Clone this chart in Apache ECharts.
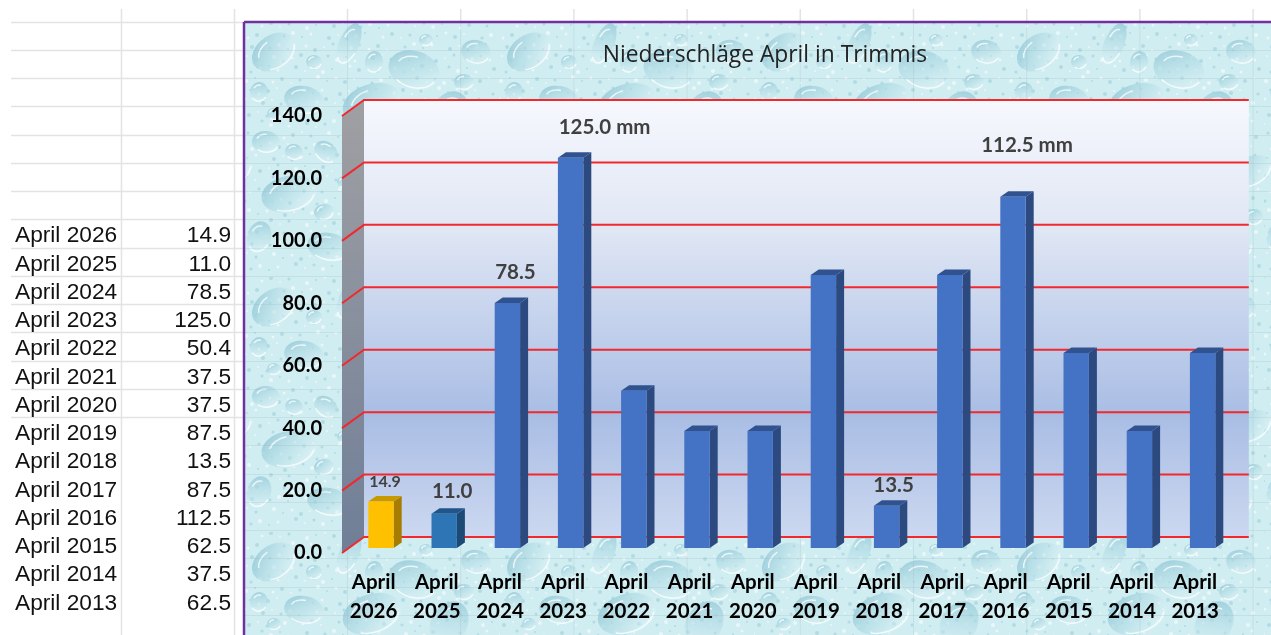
<!DOCTYPE html>
<html>
<head>
<meta charset="utf-8">
<title>Niederschläge April in Trimmis</title>
<style>
  html, body { margin: 0; padding: 0; background: #fff; }
  #chart { width: 1271px; height: 635px; }
</style>
<script src="https://cdn.jsdelivr.net/npm/echarts@6/dist/echarts.min.js"></script>
</head>
<body>
<div id="chart"></div>
<script>
// data
const categories = ['April 2026', 'April 2025', 'April 2024', 'April 2023', 'April 2022', 'April 2021', 'April 2020',
    'April 2019', 'April 2018', 'April 2017', 'April 2016', 'April 2015', 'April 2014', 'April 2013'];
const rainfall = [14.9, 11.0, 78.5, 125.0, 50.4, 37.5, 37.5, 87.5, 13.5, 87.5, 112.5, 62.5, 37.5, 62.5];
const yTicks = [0, 20, 40, 60, 80, 100, 120, 140];
const labelled = [
    { index: 0, text: '14.9' },
    { index: 1, text: '11.0' },
    { index: 2, text: '78.5' },
    { index: 3, text: '125.0 mm' },
    { index: 8, text: '13.5' },
    { index: 10, text: '112.5 mm' },
];

// label placement, relative to the bar top
const labelStyle = {
    0: { dx: 4, dy: -20, size: 16 },
    1: { dx: 8, dy: -22, size: 20.5 },
    2: { dx: 8, dy: -31, size: 20.5 },
    3: { dx: 34, dy: -30, size: 20.5 },
    8: { dx: 7, dy: -20, size: 20.5 },
    10: { dx: 14, dy: -51, size: 20.5 },
};

const barColors = { front: '#4472c4', side: '#2c4a7f', top: '#30528f' };
const specialColors = {
    0: { front: '#ffc000', side: '#a67d00', top: '#c99a00' },
    1: { front: '#2e75b6', side: '#1d4a75', top: '#22568a' },
};

// water drop picture behind the chart
const drops = [
    [30, 30, 24, 17, -0.6], [105, 22, 10, 22, 0.4], [170, 48, 26, 19, 0.3], [232, 30, 15, 12, 0.2],
    [60, 78, 20, 14, 0.2], [128, 82, 30, 20, -0.3], [205, 92, 18, 24, 0.5], [22, 120, 14, 11, 0.1],
    [82, 130, 13, 10, 0.7], [165, 138, 20, 14, -0.2], [240, 150, 24, 15, -0.4], [45, 172, 28, 18, -0.2],
    [118, 182, 16, 20, 0.4], [190, 190, 14, 11, 0.1], [15, 215, 12, 16, 0.3], [85, 225, 22, 14, 0.2],
    [150, 232, 12, 10, 0.5], [225, 228, 20, 14, -0.5], [70, 40, 8, 7, 0], [140, 120, 8, 7, 0],
    [205, 150, 8, 6, 0], [100, 160, 7, 6, 0], [30, 92, 7, 6, 0], [182, 18, 7, 6, 0],
    [50, 130, 9, 8, 0.3], [130, 40, 9, 11, 0.2], [220, 60, 10, 8, 0], [160, 200, 9, 7, 0.4],
    [80, 190, 10, 8, -0.2], [15, 70, 9, 10, 0.3], [245, 195, 9, 8, 0], [115, 125, 8, 10, 0.5],
];

function drawDrop(ctx, d) {
    ctx.save();
    ctx.translate(d[0], d[1]);
    ctx.rotate(d[4]);
    const rx = d[2], ry = d[3];
    const g = ctx.createLinearGradient(-rx * 0.5, -ry, rx * 0.5, ry);
    g.addColorStop(0, 'rgba(150,203,217,0.85)');
    g.addColorStop(0.6, 'rgba(182,222,231,0.45)');
    g.addColorStop(1, 'rgba(232,248,250,0.4)');
    ctx.fillStyle = g;
    ctx.beginPath();
    ctx.ellipse(0, 0, rx, ry, 0, 0, Math.PI * 2);
    ctx.fill();
    ctx.strokeStyle = 'rgba(255,255,255,0.75)';
    ctx.lineWidth = 1.5;
    ctx.beginPath();
    ctx.ellipse(0, 0, rx * 0.92, ry * 0.92, 0, Math.PI * 0.1, Math.PI * 0.7);
    ctx.stroke();
    ctx.beginPath();
    ctx.ellipse(0, 0, rx * 0.7, ry * 0.7, 0, Math.PI * 1.1, Math.PI * 1.5);
    ctx.stroke();
    ctx.restore();
}

function makeTile(size) {
    const cv = document.createElement('canvas');
    cv.width = size;
    cv.height = size;
    const ctx = cv.getContext('2d');
    ctx.fillStyle = '#d0edf1';
    ctx.fillRect(0, 0, size, size);
    // small specks between the big drops
    for (let i = 0; i < 23; i++) {
        for (let j = 0; j < 23; j++) {
            const x = i * 11 + (i * 7 + j * 13) % 9;
            const y = j * 11 + (i * 11 + j * 5) % 7;
            ctx.fillStyle = (i + j) % 2 ? 'rgba(255,255,255,0.55)' : 'rgba(150,202,214,0.5)';
            ctx.beginPath();
            ctx.arc(x, y, 1 + (i + j) % 3 * 0.5, 0, Math.PI * 2);
            ctx.fill();
        }
    }
    // drawn again one tile over so drops crossing the edge wrap round
    [-size, 0, size].forEach(ox => {
        [-size, 0, size].forEach(oy => {
            ctx.save();
            ctx.translate(ox, oy);
            drops.forEach(d => drawDrop(ctx, d));
            ctx.restore();
        });
    });
    return cv;
}

function makeTexture(w, h) {
    const tile = makeTile(255);
    const raw = document.createElement('canvas');
    raw.width = w;
    raw.height = h;
    const rawCtx = raw.getContext('2d');
    rawCtx.fillStyle = rawCtx.createPattern(tile, 'repeat');
    rawCtx.fillRect(0, 0, w, h);
    const cv = document.createElement('canvas');
    cv.width = w;
    cv.height = h;
    const ctx = cv.getContext('2d');
    ctx.filter = 'blur(0.6px)';
    ctx.drawImage(raw, 0, 0);
    return cv;
}

// spreadsheet behind and beside the chart
const panelX = 244, panelY = 22;
function sheetGraphics() {
    const els = [];
    const sheetLine = '#e3e3e3', panelLine = 'rgba(150,178,186,0.22)';
    for (let i = 0; i < 15; i++) {
        const y = Math.round(21.7 + i * 28.25) + 0.5;
        els.push({ type: 'line', shape: { x1: 11, y1: y, x2: panelX, y2: y }, style: { stroke: sheetLine, lineWidth: 1.5 } });
    }
    [121.5, 234.5].forEach(x => {
        els.push({ type: 'line', shape: { x1: x, y1: 9, x2: x, y2: 635 }, style: { stroke: sheetLine, lineWidth: 1.5 } });
    });
    els.push({
        type: 'image', z: 0,
        style: { image: makeTexture(1271 - panelX, 635 - panelY), x: panelX, y: panelY }
    });
    for (let i = 1; i < 22; i++) {
        const y = Math.round(21.7 + i * 28.25) + 0.5;
        els.push({ type: 'line', shape: { x1: panelX, y1: y, x2: 1271, y2: y }, style: { stroke: panelLine, lineWidth: 1 } });
    }
    for (let i = 0; i < 10; i++) {
        const x = 347.5 + i * 113.2;
        els.push({ type: 'line', shape: { x1: x, y1: panelY, x2: x, y2: 635 }, style: { stroke: panelLine, lineWidth: 1 } });
        els.push({ type: 'line', shape: { x1: x, y1: 9, x2: x, y2: panelY }, style: { stroke: sheetLine, lineWidth: 1.5 } });
    }
    els.push({ type: 'line', shape: { x1: panelX, y1: panelY, x2: 1271, y2: panelY }, style: { stroke: '#7030a0', lineWidth: 2.5 } });
    els.push({ type: 'line', shape: { x1: panelX, y1: panelY, x2: panelX, y2: 635 }, style: { stroke: '#7030a0', lineWidth: 2.5 } });
    categories.forEach((c, i) => {
        const y = 236 + i * 28.25;
        els.push({ type: 'text', style: { text: c, x: 15, y: y, fill: '#111', font: '22.7px "Liberation Sans"', textAlign: 'left', textVerticalAlign: 'middle' } });
        els.push({ type: 'text', style: { text: rainfall[i].toFixed(1), x: 231, y: y, fill: '#111', font: '22.7px "Liberation Sans"', textAlign: 'right', textVerticalAlign: 'middle' } });
    });
    els.push({
        type: 'text',
        style: { text: 'Niederschläge April in Trimmis', x: 765, y: 56, fill: '#222', font: '22.8px "Open Sans"', textAlign: 'center', textVerticalAlign: 'middle' }
    });
    return els;
}

// depth of the back wall, in pixels
const wallDx = 22, wallDy = -16;
// bars stand in the middle of the depth
const barDx = 7.4, barDy = -5, barDepthX = 8, barDepthY = -5.5, barWidth = 25.4;

function renderWall(params, api) {
    const band = api.size([1, 0])[0];
    const left = api.coord([0, 0])[0] - band / 2;
    const right = api.coord([categories.length - 1, 0])[0] + band / 2 + wallDx;
    const yBottom = api.coord([0, 0])[1];
    const yTop = api.coord([0, api.value(1)])[1];
    return {
        type: 'group',
        children: [
            {
                type: 'polygon',
                shape: { points: [[left, yTop], [left + wallDx, yTop + wallDy], [left + wallDx, yBottom + wallDy], [left, yBottom]] },
                style: { fill: new echarts.graphic.LinearGradient(0, 0, 0, 1, [
                    { offset: 0, color: '#a0a0a3' },
                    { offset: 1, color: '#6f7e97' },
                ]) },
            },
            {
                type: 'rect',
                shape: { x: left + wallDx, y: yTop + wallDy, width: right - left - wallDx, height: yBottom - yTop },
                style: { fill: new echarts.graphic.LinearGradient(0, 0, 0, 1, [
                    { offset: 0, color: '#f7f8fe' },
                    { offset: 0.3, color: '#dfe6f4' },
                    { offset: 0.72, color: '#a9bde4' },
                    { offset: 1, color: '#ccd8f0' },
                ]) },
            },
        ],
    };
}

function renderGridLine(params, api) {
    const band = api.size([1, 0])[0];
    const y = api.coord([0, api.value(1)])[1];
    const left = api.coord([0, 0])[0] - band / 2;
    const right = api.coord([categories.length - 1, 0])[0] + band / 2 + wallDx;
    return {
        type: 'polyline',
        shape: { points: [[left, y], [left + wallDx, y + wallDy], [right, y + wallDy]] },
        style: { fill: 'none', stroke: '#f3282d', lineWidth: 2 },
    };
}

function renderBar(params, api) {
    const i = api.value(0);
    const c = api.coord([i, api.value(1)]);
    const base = api.coord([i, 0])[1] + barDy;
    const top = c[1] + barDy;
    const x0 = c[0] + barDx - barWidth / 2;
    const x1 = x0 + barWidth;
    const col = specialColors[i] || barColors;
    return {
        type: 'group',
        children: [
            {
                type: 'polygon',
                shape: { points: [[x1, top], [x1 + barDepthX, top + barDepthY], [x1 + barDepthX, base + barDepthY], [x1, base]] },
                style: { fill: col.side },
            },
            {
                type: 'polygon',
                shape: { points: [[x0, top], [x0 + barDepthX, top + barDepthY], [x1 + barDepthX, top + barDepthY], [x1, top]] },
                style: { fill: col.top },
            },
            {
                type: 'rect',
                shape: { x: x0, y: top, width: barWidth, height: base - top },
                style: { fill: col.front },
            },
        ],
    };
}

function renderLabel(params, api) {
    const i = api.value(0);
    const c = api.coord([i, api.value(1)]);
    const s = labelStyle[i];
    return {
        type: 'text',
        style: {
            text: labelled[params.dataIndex].text,
            x: c[0] + barDx + s.dx,
            y: c[1] + barDy + s.dy,
            fill: '#404040',
            font: 'bold ' + s.size + 'px Lato',
            textAlign: 'center',
            textVerticalAlign: 'middle',
        },
    };
}

const chart = echarts.init(document.getElementById('chart'));
chart.setOption({
    animation: false,
    backgroundColor: '#fff',
    graphic: { elements: sheetGraphics() },
    grid: { left: 342, top: 116, width: 884.8, height: 437 },
    xAxis: {
        type: 'category',
        data: categories,
        axisLine: { show: false },
        axisTick: { show: false },
        axisLabel: {
            interval: 0,
            margin: 15,
            color: '#000',
            fontFamily: 'Lato',
            fontWeight: 'bold',
            fontSize: 20.5,
            lineHeight: 29,
            formatter: v => v.replace(' ', '\n'),
        },
    },
    yAxis: {
        type: 'value',
        min: 0,
        max: 140,
        interval: 20,
        axisLine: { show: false },
        axisTick: { show: false },
        splitLine: { show: false },
        axisLabel: {
            margin: 20,
            color: '#000',
            fontFamily: 'Lato',
            fontWeight: 'bold',
            fontSize: 20,
            padding: [8, 0, 0, 0],
            formatter: v => v.toFixed(1),
        },
    },
    series: [
        { type: 'custom', z: 3, renderItem: renderWall, data: [[0, yTicks[yTicks.length - 1]]], silent: true },
        { type: 'custom', z: 4, renderItem: renderGridLine, data: yTicks.map(t => [0, t]), silent: true },
        { type: 'custom', z: 5, renderItem: renderBar, data: rainfall.map((v, i) => [i, v]) },
        { type: 'custom', z: 6, renderItem: renderLabel, data: labelled.map(l => [l.index, rainfall[l.index]]), silent: true },
    ],
});
</script>
</body>
</html>
